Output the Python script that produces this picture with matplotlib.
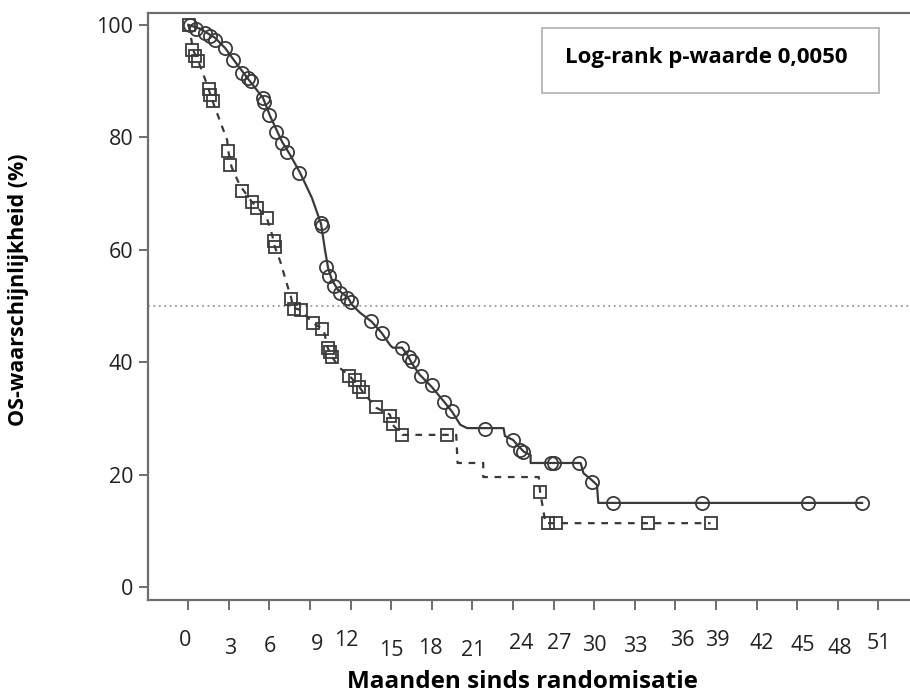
import matplotlib
matplotlib.use('Agg')
import matplotlib.pyplot as plt
import matplotlib.transforms as mtransforms
from matplotlib.patches import Rectangle

# survival curve, arm with circles (solid line) - vertices (months, %)
circ_t = [0, 0.87, 1.97, 2.71, 3.53, 4.41, 5.52, 6.04, 6.93, 7.52, 8.26, 9.14, 9.81,
          10.1, 10.33, 10.6, 11.05, 11.8, 12.1, 12.7, 13.56, 14.3, 14.9, 15.1, 15.8,
          16.2, 16.5, 17.1, 18.0, 18.97, 19.5, 20.1, 20.6, 23.3, 23.4, 24.0, 24.4,
          24.8, 25.3, 25.3, 29.0, 29.2, 29.8, 30.2, 30.3, 49.8]
circ_s = [100, 99.3, 97.7, 95.9, 93.2, 90.4, 87.0, 83.8, 79.2, 76.9, 73.7, 69.2, 64.6,
          60.0, 56.8, 54.7, 52.9, 51.5, 50.2, 48.8, 47.2, 45.2, 43.1, 42.6, 42.6,
          41.3, 39.9, 37.8, 35.6, 32.8, 31.2, 28.9, 28.3, 28.3, 26.9, 26.2, 25.1,
          24.1, 23.5, 22.1, 22.1, 20.3, 19.1, 18.2, 15.0, 15.0]

# censored observations, circle arm
circ_cens_t = [0.1, 0.6, 1.2, 1.6, 2.0, 2.7, 3.3, 4.0, 4.4, 4.6, 5.5, 5.6, 6.0, 6.5,
               6.9, 7.3, 8.2, 9.8, 9.85, 10.2, 10.4, 10.8, 11.2, 11.7, 12.0, 13.5,
               14.3, 15.8, 16.3, 16.5, 17.2, 18.0, 18.9, 19.5, 21.9, 24.0, 24.5, 24.7,
               26.8, 27.0, 28.9, 29.8, 31.4, 38.0, 45.8, 49.8]
circ_cens_s = [100, 99.3, 98.5, 98.0, 97.3, 95.9, 93.7, 91.5, 90.6, 90.0, 87.0, 86.3,
               84.0, 81.0, 79.0, 77.4, 73.7, 64.7, 64.3, 57.0, 55.3, 53.5, 52.3, 51.5,
               50.7, 47.4, 45.2, 42.6, 41.0, 40.2, 37.6, 36.0, 33.0, 31.3, 28.2, 26.2,
               24.4, 24.1, 22.1, 22.1, 22.1, 18.8, 15.0, 15.0, 15.0, 15.0]

# survival curve, arm with squares (dashed line)
sq_t = [0, 0.15, 0.35, 0.64, 0.87, 1.4, 1.75, 2.87, 2.93, 3.2, 3.8, 4.04, 4.7, 5.15,
        5.8, 6.2, 6.4, 6.8, 7.3, 7.6, 7.74, 8.3, 9.2, 10.0, 10.3, 10.6, 11.2, 11.9,
        12.54, 12.9, 13.9, 14.9, 15.1, 15.8, 19.8, 19.9, 21.8, 21.8, 25.9, 26.0, 26.4,
        38.6]
sq_s = [100, 98.5, 95.5, 94.1, 92.7, 89.3, 86.7, 79.5, 77.8, 74.7, 71.5, 70.7, 68.5,
        67.4, 65.7, 62.6, 60.5, 57.9, 53.8, 51.5, 49.7, 49.3, 47.0, 45.8, 42.6, 41.0,
        39.0, 37.6, 36.0, 34.7, 31.9, 30.7, 28.9, 27.1, 27.1, 22.1, 22.1, 19.6, 19.6,
        17.0, 11.4, 11.4]

# censored observations, square arm
sq_cens_t = [0.05, 0.3, 0.5, 0.7, 1.5, 1.6, 1.8, 2.9, 3.1, 4.0, 4.7, 5.1, 5.8, 6.3,
             6.4, 7.6, 7.8, 8.3, 9.2, 9.9, 10.3, 10.5, 10.6, 11.9, 12.3, 12.6, 12.9,
             13.9, 14.9, 15.1, 15.8, 19.1, 26.0, 26.6, 27.2, 34.0, 38.6]
sq_cens_s = [100, 95.5, 94.5, 93.5, 88.5, 87.5, 86.5, 77.5, 75.0, 70.5, 68.5, 67.5,
             65.6, 61.5, 60.5, 51.3, 49.5, 49.3, 47.0, 46.0, 42.6, 41.8, 41.0, 37.6,
             36.8, 35.6, 34.8, 32.0, 30.5, 29.0, 27.1, 27.1, 17.0, 11.4, 11.4, 11.4,
             11.4]

x_ticks = list(range(0, 52, 3))
x_ticklabels = [str(t) for t in x_ticks]
y_ticks = [0, 20, 40, 60, 80, 100]

pvalue_text = 'Log-rank p-waarde 0,0050'
xlabel = 'Maanden sinds randomisatie'
ylabel = 'OS-waarschijnlijkheid (%)'

# the scanned original has slightly scattered x tick labels (pixel offsets, + = up)
label_dx = [-3, 1, 0, 7, -4, 0, -1, 1, 8, 6, 0, 1, 7, 1, 5, 6, 2, 1]
label_dy = [5, -3, -1, 1, 5, -5, -3, -5, 2, 2, 0, -1, 5, 5, 2, 0, -3, 2]

plt.rcParams['font.family'] = ['Open Sans', 'DejaVu Sans']
gray = '#6e6e6e'
ink = '#3a3a3a'

fig = plt.figure(figsize=(9.1, 6.97), dpi=100)
ax = fig.add_axes([148 / 910, 1 - 600 / 697, 1 - 148 / 910, (600 - 13) / 697])

ax.plot(circ_t, circ_s, color=ink, lw=1.6, zorder=3)
ax.plot(circ_cens_t, circ_cens_s, ls='none', marker='o', ms=9.5, mfc='none',
        mec=ink, mew=1.3, zorder=4)
ax.plot(sq_t, sq_s, color=ink, lw=1.6, ls=(0, (3, 3)), zorder=3)
ax.plot(sq_cens_t, sq_cens_s, ls='none', marker='s', ms=9, mfc='none',
        mec=ink, mew=1.3, zorder=4)

ax.axhline(50, color='#9a9a9a', lw=1.3, ls=(0, (1, 2)), zorder=1)

ax.set_xlim(-2.98, 53.34)
ax.set_ylim(-2.26, 102.1)

ax.spines['right'].set_visible(False)
for s in ['left', 'top', 'bottom']:
    ax.spines[s].set_color(gray)
    ax.spines[s].set_linewidth(1.6)

ax.set_yticks(y_ticks)
ax.set_yticklabels([str(v) for v in y_ticks])
ax.tick_params(axis='y', direction='out', length=6.5, width=1.4, color=gray,
               pad=4, labelsize=15.5, labelcolor='#222222')
ax.set_xticks(x_ticks)
ax.set_xticklabels(x_ticklabels)
ax.tick_params(axis='x', direction='out', length=7.5, width=1.4, color=gray,
               pad=18, labelsize=15.5, labelcolor='#222222')

for lab, dx, dy in zip(ax.get_xticklabels(), label_dx, label_dy):
    off = mtransforms.ScaledTranslation(dx / 100, dy / 100, fig.dpi_scale_trans)
    lab.set_transform(lab.get_transform() + off)

fig.text(522 / 910, 1 - 682 / 697, xlabel, ha='center', va='center',
         fontsize=17.5, fontweight='bold', color='black')
fig.text(19 / 910, 1 - 290 / 697, ylabel, ha='center', va='center',
         rotation=90, fontsize=15.5, fontweight='bold', color='black')

# p-value box
fig.add_artist(Rectangle((542 / 910, 1 - 93 / 697), 337 / 910, 65 / 697,
                         transform=fig.transFigure, fill=False,
                         edgecolor='#b5b5b5', lw=1.3))
fig.text(706 / 910, 1 - 58 / 697, pvalue_text, ha='center', va='center',
         fontsize=16, fontweight='bold', color='black')

fig.savefig('out.png', dpi=100, facecolor='white')
